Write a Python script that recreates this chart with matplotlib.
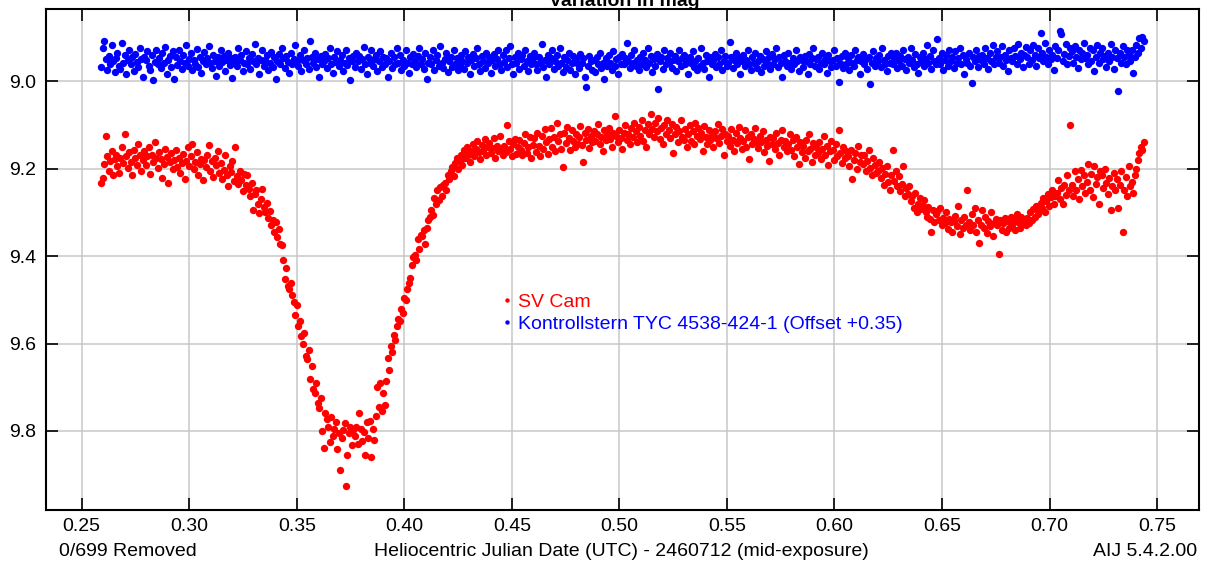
import numpy as np
import matplotlib
matplotlib.use("Agg")
import matplotlib.pyplot as plt
from matplotlib.ticker import FormatStrFormatter

plt.rcParams["font.family"] = ["Liberation Sans", "DejaVu Sans"]

# one exposure per minute, HJD - 2460712
HJD_START = 0.2590
CADENCE = 1.0 / 1440.0

sv_cam = [
    9.232, 9.221, 9.190, 9.126, 9.172, 9.205, 9.183, 9.160, 9.215, 9.178,
    9.168, 9.195, 9.210, 9.176, 9.150, 9.187, 9.122, 9.172, 9.198, 9.163,
    9.185, 9.214, 9.158, 9.176, 9.191, 9.145, 9.170, 9.206, 9.181, 9.160,
    9.193, 9.172, 9.150, 9.213, 9.168, 9.184, 9.140, 9.175, 9.199, 9.162,
    9.178, 9.221, 9.190, 9.156, 9.173, 9.232, 9.186, 9.165, 9.201, 9.180,
    9.158, 9.196, 9.175, 9.210, 9.188, 9.167, 9.225, 9.182, 9.150, 9.194,
    9.172, 9.145, 9.201, 9.186, 9.163, 9.214, 9.190, 9.178, 9.226, 9.181,
    9.196, 9.168, 9.147, 9.205, 9.182, 9.219, 9.175, 9.193, 9.160, 9.210,
    9.187, 9.225, 9.203, 9.170, 9.214, 9.240, 9.195, 9.208, 9.183, 9.229,
    9.150, 9.218, 9.236, 9.205, 9.227, 9.251, 9.212, 9.238, 9.215, 9.246,
    9.262, 9.233, 9.295, 9.258, 9.249, 9.280, 9.302, 9.270, 9.246, 9.288,
    9.300, 9.278, 9.312, 9.296, 9.330, 9.318, 9.345, 9.322, 9.356, 9.338,
    9.372, 9.375, 9.410, 9.452, 9.428, 9.468, 9.475, 9.462, 9.488, 9.505,
    9.535, 9.512, 9.560, 9.548, 9.582, 9.600, 9.575, 9.628, 9.636, 9.615,
    9.680, 9.652, 9.705, 9.712, 9.690, 9.735, 9.748, 9.725, 9.800, 9.838,
    9.760, 9.772, 9.790, 9.825, 9.768, 9.812, 9.795, 9.780, 9.842, 9.805,
    9.890, 9.815, 9.798, 9.782, 9.925, 9.855, 9.805, 9.790, 9.832, 9.798,
    9.812, 9.790, 9.830, 9.760, 9.795, 9.822, 9.802, 9.855, 9.780, 9.815,
    9.778, 9.860, 9.795, 9.820, 9.765, 9.700, 9.745, 9.690, 9.755, 9.712,
    9.740, 9.685, 9.632, 9.660, 9.605, 9.620, 9.580, 9.592, 9.560, 9.545,
    9.548, 9.520, 9.530, 9.495, 9.500, 9.475, 9.462, 9.450, 9.420, 9.402,
    9.398, 9.410, 9.362, 9.385, 9.352, 9.355, 9.340, 9.372, 9.335, 9.318,
    9.310, 9.295, 9.306, 9.268, 9.282, 9.250, 9.272, 9.243, 9.262, 9.238,
    9.232, 9.248, 9.215, 9.225, 9.205, 9.196, 9.218, 9.188, 9.175, 9.201,
    9.182, 9.168, 9.192, 9.158, 9.176, 9.150, 9.170, 9.185, 9.160, 9.145,
    9.172, 9.155, 9.138, 9.163, 9.178, 9.146, 9.160, 9.132, 9.168, 9.150,
    9.142, 9.165, 9.153, 9.130, 9.176, 9.148, 9.160, 9.125, 9.158, 9.170,
    9.148, 9.162, 9.100, 9.138, 9.155, 9.172, 9.145, 9.132, 9.166, 9.150,
    9.135, 9.158, 9.170, 9.142, 9.120, 9.165, 9.150, 9.128, 9.177, 9.146,
    9.130, 9.162, 9.118, 9.148, 9.172, 9.125, 9.155, 9.110, 9.140, 9.166,
    9.132, 9.108, 9.150, 9.127, 9.160, 9.095, 9.138, 9.122, 9.155, 9.197,
    9.118, 9.142, 9.105, 9.130, 9.158, 9.112, 9.136, 9.150, 9.120, 9.145,
    9.128, 9.102, 9.146, 9.185, 9.118, 9.135, 9.110, 9.152, 9.126, 9.140,
    9.115, 9.138, 9.122, 9.098, 9.145, 9.128, 9.160, 9.112, 9.135, 9.120,
    9.108, 9.132, 9.150, 9.118, 9.080, 9.125, 9.140, 9.112, 9.130, 9.155,
    9.118, 9.100, 9.135, 9.122, 9.145, 9.108, 9.128, 9.095, 9.115, 9.140,
    9.105, 9.125, 9.090, 9.138, 9.112, 9.150, 9.098, 9.120, 9.075, 9.110,
    9.128, 9.095, 9.115, 9.085, 9.132, 9.108, 9.145, 9.100, 9.122, 9.088,
    9.112, 9.130, 9.098, 9.165, 9.120, 9.105, 9.140, 9.115, 9.090, 9.128,
    9.135, 9.110, 9.150, 9.122, 9.100, 9.138, 9.115, 9.145, 9.095, 9.125,
    9.108, 9.132, 9.118, 9.160, 9.102, 9.128, 9.145, 9.112, 9.135, 9.120,
    9.150, 9.115, 9.130, 9.098, 9.142, 9.125, 9.110, 9.168, 9.120, 9.138,
    9.125, 9.148, 9.110, 9.135, 9.160, 9.118, 9.142, 9.105, 9.130, 9.155,
    9.138, 9.112, 9.150, 9.128, 9.178, 9.120, 9.145, 9.133, 9.108, 9.140,
    9.152, 9.125, 9.140, 9.115, 9.162, 9.135, 9.148, 9.182, 9.128, 9.145,
    9.130, 9.155, 9.118, 9.142, 9.168, 9.135, 9.112, 9.150, 9.138, 9.160,
    9.145, 9.120, 9.158, 9.135, 9.172, 9.128, 9.150, 9.190, 9.140, 9.162,
    9.148, 9.175, 9.135, 9.160, 9.122, 9.155, 9.186, 9.142, 9.168, 9.150,
    9.165, 9.140, 9.178, 9.155, 9.125, 9.170, 9.148, 9.192, 9.160, 9.138,
    9.158, 9.180, 9.145, 9.172, 9.112, 9.165, 9.188, 9.150, 9.175, 9.160,
    9.172, 9.195, 9.158, 9.225, 9.180, 9.165, 9.200, 9.148, 9.185, 9.170,
    9.190, 9.168, 9.205, 9.182, 9.158, 9.198, 9.215, 9.175, 9.192, 9.210,
    9.205, 9.185, 9.222, 9.198, 9.238, 9.212, 9.195, 9.230, 9.248, 9.215,
    9.158, 9.228, 9.205, 9.240, 9.218, 9.252, 9.235, 9.195, 9.262, 9.245,
    9.258, 9.240, 9.275, 9.262, 9.290, 9.255, 9.300, 9.280, 9.268, 9.292,
    9.285, 9.272, 9.300, 9.310, 9.288, 9.315, 9.345, 9.295, 9.322, 9.305,
    9.298, 9.318, 9.290, 9.330, 9.312, 9.325, 9.300, 9.338, 9.315, 9.322,
    9.345, 9.320, 9.308, 9.332, 9.285, 9.350, 9.318, 9.335, 9.310, 9.328,
    9.250, 9.322, 9.340, 9.305, 9.330, 9.290, 9.345, 9.318, 9.370, 9.328,
    9.295, 9.335, 9.310, 9.348, 9.320, 9.332, 9.300, 9.355, 9.325, 9.315,
    9.330, 9.395, 9.318, 9.340, 9.325, 9.312, 9.345, 9.320, 9.335, 9.310,
    9.328, 9.315, 9.340, 9.305, 9.322, 9.335, 9.310, 9.325, 9.318, 9.330,
    9.312, 9.325, 9.300, 9.318, 9.292, 9.310, 9.285, 9.305, 9.298, 9.278,
    9.290, 9.268, 9.300, 9.275, 9.258, 9.285, 9.265, 9.250, 9.280, 9.262,
    9.255, 9.226, 9.270, 9.245, 9.280, 9.238, 9.260, 9.215, 9.250, 9.100,
    9.238, 9.262, 9.205, 9.248, 9.225, 9.270, 9.203, 9.240, 9.215, 9.255,
    9.230, 9.190, 9.248, 9.212, 9.265, 9.195, 9.235, 9.220, 9.280, 9.205,
    9.215, 9.245, 9.200, 9.232, 9.258, 9.222, 9.295, 9.240, 9.210, 9.250,
    9.225, 9.290, 9.238, 9.205, 9.345, 9.248, 9.220, 9.262, 9.195, 9.240,
    9.230, 9.255, 9.215, 9.200, 9.180, 9.165, 9.150, 9.158, 9.140,
]

# comparison star, already shifted by +0.35 mag
kontroll = [
    8.968, 8.925, 8.908, 8.950, 8.975, 8.942, 8.962, 8.918, 8.955, 8.980,
    8.947, 8.935, 8.965, 8.972, 8.912, 8.958, 8.940, 8.985, 8.952, 8.930,
    8.961, 8.945, 8.978, 8.938, 8.956, 8.968, 8.925, 8.950, 8.990, 8.944,
    8.953, 8.932, 8.966, 8.975, 8.941, 8.998, 8.957, 8.928, 8.962, 8.948,
    8.970, 8.936, 8.958, 8.922, 8.984, 8.951, 8.943, 8.967, 8.932, 8.995,
    8.946, 8.963, 8.929, 8.955, 8.972, 8.940, 8.958, 8.918, 8.965, 8.950,
    8.937, 8.975, 8.952, 8.960, 8.926, 8.968, 8.945, 8.982, 8.955, 8.934,
    8.962, 8.948, 8.920, 8.958, 8.971, 8.940, 8.955, 8.988, 8.946, 8.965,
    8.930, 8.957, 8.942, 8.976, 8.952, 8.936, 8.964, 8.948, 8.992, 8.959,
    8.945, 8.966, 8.925, 8.953, 8.940, 8.978, 8.958, 8.932, 8.960, 8.948,
    8.972, 8.938, 8.955, 8.915, 8.962, 8.947, 8.985, 8.951, 8.928, 8.966,
    8.952, 8.940, 8.975, 8.958, 8.933, 8.968, 8.945, 8.995, 8.955, 8.938,
    8.960, 8.925, 8.948, 8.970, 8.942, 8.956, 8.982, 8.936, 8.962, 8.950,
    8.918, 8.955, 8.965, 8.940, 8.978, 8.952, 8.930, 8.960, 8.947, 8.972,
    8.908, 8.945, 8.958, 8.935, 8.968, 8.950, 8.990, 8.942, 8.962, 8.955,
    8.938, 8.970, 8.948, 8.925, 8.960, 8.982, 8.945, 8.956, 8.932, 8.966,
    8.952, 8.940, 8.976, 8.958, 8.930, 8.964, 8.948, 8.998, 8.955, 8.942,
    8.968, 8.935, 8.955, 8.942, 8.972, 8.950, 8.922, 8.962, 8.985, 8.946,
    8.958, 8.928, 8.965, 8.950, 8.940, 8.978, 8.955, 8.932, 8.968, 8.945,
    8.962, 8.948, 8.990, 8.955, 8.936, 8.970, 8.945, 8.960, 8.925, 8.958,
    8.940, 8.975, 8.952, 8.965, 8.930, 8.958, 8.982, 8.946, 8.962, 8.938,
    8.955, 8.968, 8.942, 8.925, 8.960, 8.950, 8.972, 8.935, 8.995, 8.958,
    8.945, 8.962, 8.930, 8.975, 8.952, 8.940, 8.965, 8.920, 8.958, 8.970,
    8.950, 8.936, 8.980, 8.955, 8.944, 8.968, 8.928, 8.962, 8.948, 8.975,
    8.962, 8.940, 8.955, 8.972, 8.932, 8.958, 8.946, 8.985, 8.952, 8.938,
    8.965, 8.948, 8.925, 8.960, 8.978, 8.942, 8.955, 8.970, 8.935, 8.958,
    8.945, 8.982, 8.952, 8.938, 8.966, 8.950, 8.928, 8.962, 8.975, 8.940,
    8.956, 8.930, 8.968, 8.948, 8.920, 8.960, 8.985, 8.945, 8.958, 8.936,
    8.972, 8.950, 8.940, 8.965, 8.928, 8.955, 8.978, 8.942, 8.962, 8.948,
    8.935, 8.960, 8.975, 8.945, 8.958, 8.915, 8.968, 8.952, 8.990, 8.940,
    8.962, 8.948, 8.930, 8.972, 8.955, 8.940, 8.966, 8.925, 8.958, 8.980,
    8.945, 8.968, 8.952, 8.936, 8.975, 8.958, 8.942, 8.985, 8.950, 8.962,
    8.970, 8.938, 8.958, 8.948, 8.990, 9.013, 8.965, 8.942, 8.955, 8.975,
    8.952, 8.980, 8.945, 8.962, 8.935, 8.970, 8.958, 8.995, 8.948, 8.966,
    8.940, 8.958, 8.975, 8.932, 8.965, 8.950, 8.985, 8.945, 8.960, 8.938,
    8.962, 8.948, 8.913, 8.955, 8.970, 8.940, 8.958, 8.930, 8.966, 8.952,
    8.975, 8.945, 8.960, 8.935, 8.952, 8.968, 8.925, 8.958, 8.942, 8.980,
    8.950, 8.965, 8.938, 9.018, 8.955, 8.945, 8.972, 8.930, 8.960, 8.948,
    8.958, 8.935, 8.970, 8.952, 8.942, 8.978, 8.955, 8.928, 8.965, 8.948,
    8.940, 8.962, 8.950, 8.985, 8.945, 8.958, 8.932, 8.968, 8.955, 8.975,
    8.948, 8.965, 8.925, 8.958, 8.972, 8.940, 8.955, 8.990, 8.945, 8.962,
    8.952, 8.938, 8.968, 8.945, 8.960, 8.930, 8.975, 8.955, 8.942, 8.965,
    8.958, 8.911, 8.945, 8.970, 8.952, 8.935, 8.962, 8.948, 8.985, 8.955,
    8.940, 8.966, 8.952, 8.928, 8.960, 8.975, 8.945, 8.958, 8.936, 8.970,
    8.955, 8.942, 8.980, 8.950, 8.965, 8.932, 8.958, 8.946, 8.972, 8.938,
    8.962, 8.950, 8.925, 8.968, 8.945, 8.958, 8.990, 8.940, 8.955, 8.965,
    8.935, 8.958, 8.972, 8.948, 8.962, 8.930, 8.955, 8.978, 8.945, 8.952,
    8.968, 8.942, 8.955, 8.985, 8.938, 8.960, 8.948, 8.925, 8.965, 8.950,
    8.945, 8.972, 8.958, 8.935, 8.962, 8.950, 8.982, 8.940, 8.955, 8.968,
    8.952, 8.930, 8.965, 8.948, 9.003, 8.958, 8.942, 8.970, 8.935, 8.960,
    8.948, 8.975, 8.940, 8.958, 8.965, 8.928, 8.952, 8.945, 8.985, 8.955,
    8.938, 8.962, 8.950, 8.972, 8.945, 9.007, 8.958, 8.932, 8.966, 8.948,
    8.955, 8.940, 8.968, 8.925, 8.952, 8.960, 8.978, 8.942, 8.958, 8.935,
    8.962, 8.948, 8.935, 8.970, 8.955, 8.942, 8.965, 8.928, 8.950, 8.975,
    8.945, 8.958, 8.925, 8.952, 8.968, 8.938, 8.960, 8.982, 8.946, 8.955,
    8.935, 8.965, 8.950, 8.918, 8.958, 8.942, 8.972, 8.930, 8.955, 8.962,
    8.903, 8.948, 8.960, 8.935, 8.975, 8.952, 8.940, 8.966, 8.928, 8.955,
    8.945, 8.970, 8.932, 8.958, 8.948, 8.925, 8.962, 8.940, 8.985, 8.950,
    8.958, 8.935, 8.965, 9.004, 8.945, 8.955, 8.930, 8.968, 8.942, 8.952,
    8.940, 8.962, 8.925, 8.948, 8.972, 8.935, 8.955, 8.918, 8.960, 8.945,
    8.932, 8.958, 8.945, 8.920, 8.965, 8.940, 8.952, 8.978, 8.928, 8.948,
    8.955, 8.925, 8.942, 8.962, 8.915, 8.950, 8.935, 8.968, 8.940, 8.922,
    8.945, 8.960, 8.930, 8.952, 8.918, 8.940, 8.965, 8.925, 8.948, 8.890,
    8.935, 8.955, 8.912, 8.945, 8.962, 8.928, 8.950, 8.940, 8.975, 8.920,
    8.948, 8.930, 8.886, 8.892, 8.955, 8.938, 8.915, 8.962, 8.942, 8.925,
    8.932, 8.958, 8.920, 8.945, 8.970, 8.928, 8.950, 8.935, 8.912, 8.948,
    8.940, 8.962, 8.925, 8.955, 8.930, 8.978, 8.945, 8.918, 8.958, 8.936,
    8.925, 8.950, 8.942, 8.968, 8.935, 8.955, 8.915, 8.945, 8.972, 8.930,
    8.948, 9.022, 8.935, 8.958, 8.920, 8.945, 8.962, 8.928, 8.940, 8.955,
    8.930, 8.982, 8.945, 8.918, 8.935, 8.902, 8.925, 8.900, 8.908,
]

series_labels = ["SV Cam", "Kontrollstern TYC 4538-424-1 (Offset +0.35)"]
series_colors = ["#ff0000", "#0000ff"]

x_ticks = [0.25, 0.30, 0.35, 0.40, 0.45, 0.50, 0.55, 0.60, 0.65, 0.70, 0.75]
y_ticks = [9.0, 9.2, 9.4, 9.6, 9.8]

FS = 14
W, H = 1206, 566


def hjd_for(values):
    return HJD_START + CADENCE * np.arange(len(values))


def buildGraph():
    fig = plt.figure(figsize=(W / 100, H / 100), dpi=100)
    ax = fig.add_axes([46 / W, 1 - 510 / H, 1153 / W, 500.7 / H])

    for values, label, color in zip([sv_cam, kontroll], series_labels, series_colors):
        ax.plot(hjd_for(values), values, "o", ms=5.3, mew=0, color=color,
                label=label, zorder=3)

    ax.set_xlim(0.2334, 0.7695)
    ax.set_ylim(9.9806, 8.836)
    ax.set_xticks(x_ticks)
    ax.set_yticks(y_ticks)
    ax.xaxis.set_major_formatter(FormatStrFormatter("%.2f"))
    ax.yaxis.set_major_formatter(FormatStrFormatter("%.1f"))
    ax.grid(True, color="#c8c8c8", linewidth=1.1)
    ax.set_axisbelow(True)
    ax.tick_params(direction="in", length=8.5, width=1.2, top=True, right=True,
                   labelsize=FS, pad=6, colors="black")
    ax.tick_params(axis="y", pad=7)
    for sp in ax.spines.values():
        sp.set_linewidth(1.5)

    ax.legend(loc="center left", bbox_to_anchor=(0.3955, 0.3934), frameon=False,
              borderpad=0, borderaxespad=0, handlelength=0.5, handletextpad=0.3,
              labelspacing=0.22, markerscale=0.6, fontsize=FS, labelcolor="linecolor")

    fig.text(59 / W, 1 - 551 / H, "0/699 Removed", ha="left", va="center", fontsize=FS)
    fig.text(621 / W, 1 - 552 / H, "Heliocentric Julian Date (UTC) - 2460712 (mid-exposure)",
             ha="center", va="center", fontsize=FS)
    fig.text(1197 / W, 1 - 551 / H, "AIJ 5.4.2.00", ha="right", va="center", fontsize=FS)
    fig.text(624 / W, 1 - 6 / H, "Variation in mag", ha="center", va="baseline",
             fontsize=FS, fontweight="bold")

    fig.savefig("out.png", dpi=100)


buildGraph()
